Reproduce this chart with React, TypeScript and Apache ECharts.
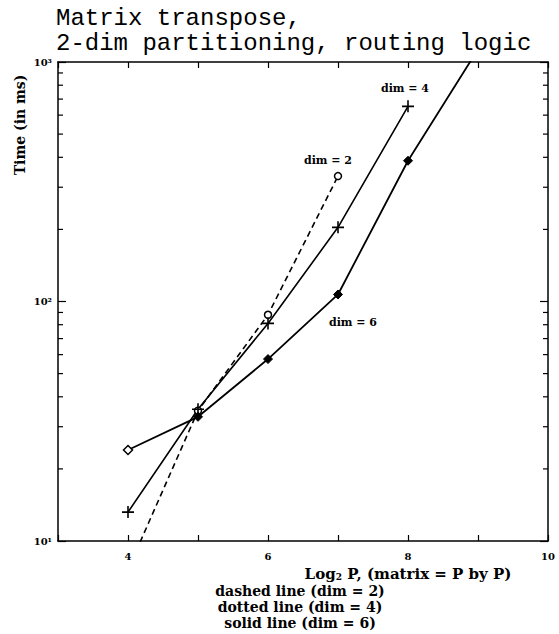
import React, { useEffect, useRef } from "react";
import * as echarts from "echarts";

// ---- data ----
const xValues = [4, 5, 6, 7, 8, 9];
const dim2Times = [7.6, 35, 88, 334];
const dim4Times = [13.2, 35.5, 81, 204, 653];
const dim6Times = [24, 33, 57.5, 107, 387, 1130];
const yMinorTicks = [20, 30, 40, 50, 60, 70, 80, 90, 200, 300, 400, 500, 600, 700, 800, 900];
const yTickLabels: Record<number, string> = { 10: "10¹", 100: "10²", 1000: "10³" };
const xTickLabels: Record<number, string> = { 4: "4", 6: "6", 8: "8", 10: "10" };
const titleLines = ["Matrix transpose,", "2-dim partitioning, routing logic"];
const legendLines = ["dashed line (dim = 2)", "dotted line (dim = 4)", "solid line (dim = 6)"];

const X_MIN = 3;
const X_MAX = 10;
const SERIF = "'DejaVu Serif', serif";
const MONO = "'Liberation Mono', monospace";

export default function App() {
  const ref = useRef<HTMLDivElement>(null);
  useEffect(() => {
    if (!ref.current) return;
    const chart = echarts.init(ref.current, null, { renderer: "svg" });
    const plus = "path://M0,5L10,5M5,0L5,10";
    const labelStyle = { fontFamily: SERIF, fontWeight: "bold" as const, fontSize: 10, color: "#000" };
    const annStyle = { ...labelStyle, fontSize: 11 };

    const dim2Data = dim2Times.map((v, i) => {
      const item: any = { value: [xValues[i], v] };
      if (i === dim2Times.length - 1)
        item.label = { show: true, formatter: "dim = 2", position: "top", distance: 6, offset: [-10, 0], ...annStyle };
      return item;
    });
    const dim4Data = dim4Times.map((v, i) => {
      const item: any = { value: [xValues[i], v] };
      if (i === dim4Times.length - 1)
        item.label = { show: true, formatter: "dim = 4", position: "top", distance: 6, offset: [-3, 0], ...annStyle };
      return item;
    });
    const dim6Data = dim6Times.map((v, i) => {
      const item: any = { value: [xValues[i], v] };
      if (i === 0) item.itemStyle = { color: "#fff", borderColor: "#000", borderWidth: 1.5 };
      if (i === 3)
        item.label = { show: true, formatter: "dim = 6", position: "bottom", distance: 4, offset: [15, 14], ...annStyle };
      return item;
    });

    chart.setOption({
      animation: false,
      grid: { left: 58, right: 11, top: 62, bottom: 93 },
      xAxis: [
        {
          type: "value",
          min: X_MIN,
          max: X_MAX,
          interval: 1,
          position: "bottom",
          axisLine: { lineStyle: { color: "#000", width: 1.5 } },
          axisTick: { inside: true, length: 6, lineStyle: { color: "#000", width: 1.2 } },
          splitLine: { show: false },
          axisLabel: {
            formatter: (v: number) => xTickLabels[v] ?? "",
            margin: 10,
            ...labelStyle,
          },
        },
        {
          type: "value",
          min: X_MIN,
          max: X_MAX,
          interval: 1,
          position: "top",
          axisLine: { lineStyle: { color: "#000", width: 1.5 } },
          axisTick: { inside: true, length: 6, lineStyle: { color: "#000", width: 1.2 } },
          splitLine: { show: false },
          axisLabel: { show: false },
        },
      ],
      yAxis: [
        {
          type: "log",
          logBase: 10,
          min: 10,
          max: 1000,
          position: "left",
          axisLine: { show: true, lineStyle: { color: "#000", width: 1.5 } },
          axisTick: { show: true, inside: true, length: 8, lineStyle: { color: "#000", width: 1.2 } },
          splitLine: { show: false },
          axisLabel: { formatter: (v: number) => yTickLabels[Math.round(v)] ?? "", margin: 6, ...labelStyle },
        },
        {
          type: "log",
          logBase: 10,
          min: 10,
          max: 1000,
          position: "right",
          axisLine: { show: true, lineStyle: { color: "#000", width: 1.5 } },
          axisTick: { show: true, inside: true, length: 8, lineStyle: { color: "#000", width: 1.2 } },
          splitLine: { show: false },
          axisLabel: { show: false },
        },
      ],
      series: [
        {
          type: "custom",
          silent: true,
          data: yMinorTicks.map((v) => [X_MIN, v]),
          renderItem: (_p: any, api: any) => {
            const v = api.value(1);
            const l = api.coord([X_MIN, v]);
            const r = api.coord([X_MAX, v]);
            return {
              type: "group",
              children: [
                { type: "line", shape: { x1: l[0], y1: l[1], x2: l[0] + 5, y2: l[1] }, style: { stroke: "#000", lineWidth: 1.2 } },
                { type: "line", shape: { x1: r[0] - 5, y1: r[1], x2: r[0], y2: r[1] }, style: { stroke: "#000", lineWidth: 1.2 } },
              ],
            };
          },
        },
        {
          name: "dim = 2",
          type: "line",
          data: dim2Data,
          symbol: "circle",
          symbolSize: 7,
          lineStyle: { color: "#000", width: 1.6, type: [6, 4] },
          itemStyle: { color: "#fff", borderColor: "#000", borderWidth: 1.5 },
          clip: true,
        },
        {
          name: "dim = 4",
          type: "line",
          data: dim4Data,
          symbol: plus,
          symbolSize: 12,
          lineStyle: { color: "#000", width: 1.6 },
          itemStyle: { color: "#000", borderColor: "#000", borderWidth: 1.6 },
          clip: true,
        },
        {
          name: "dim = 6",
          type: "line",
          data: dim6Data,
          symbol: "diamond",
          symbolSize: 9,
          lineStyle: { color: "#000", width: 1.8 },
          itemStyle: { color: "#000", borderColor: "#000", borderWidth: 1 },
          clip: true,
        },
      ],
      graphic: [
        ...titleLines.map((t, i) => ({
          type: "text",
          x: 56,
          y: 18 + i * 25,
          style: { text: t, fontFamily: MONO, fontSize: 24, lineHeight: 24, fill: "#000", align: "left", verticalAlign: "middle" },
        })),
        {
          type: "text",
          x: 20,
          y: 125,
          rotation: Math.PI / 2,
          style: { text: "Time (in ms)", fontFamily: SERIF, fontWeight: "bold", fontSize: 14, fill: "#000", align: "center", verticalAlign: "middle" },
        },
        {
          type: "text",
          x: 408,
          y: 574,
          style: {
            text: "Log{sub|2} P, (matrix = P by P)",
            fontFamily: SERIF,
            fontWeight: "bold",
            fontSize: 15,
            lineHeight: 15,
            fill: "#000",
            align: "center",
            verticalAlign: "middle",
            rich: { sub: { fontFamily: SERIF, fontWeight: "bold", fontSize: 9, lineHeight: 9, padding: [6, 0, 0, 0], fill: "#000" } },
          },
        },
        ...legendLines.map((t, i) => ({
          type: "text",
          x: 300,
          y: 591 + i * 16,
          style: { text: t, fontFamily: SERIF, fontWeight: "bold", fontSize: 14, lineHeight: 14, fill: "#000", align: "center", verticalAlign: "middle" },
        })),
      ],
    });
    return () => chart.dispose();
  }, []);
  return <div ref={ref} style={{ width: 559, height: 634, position: "absolute", left: 0, top: 0, background: "#fff" }} />;
}
